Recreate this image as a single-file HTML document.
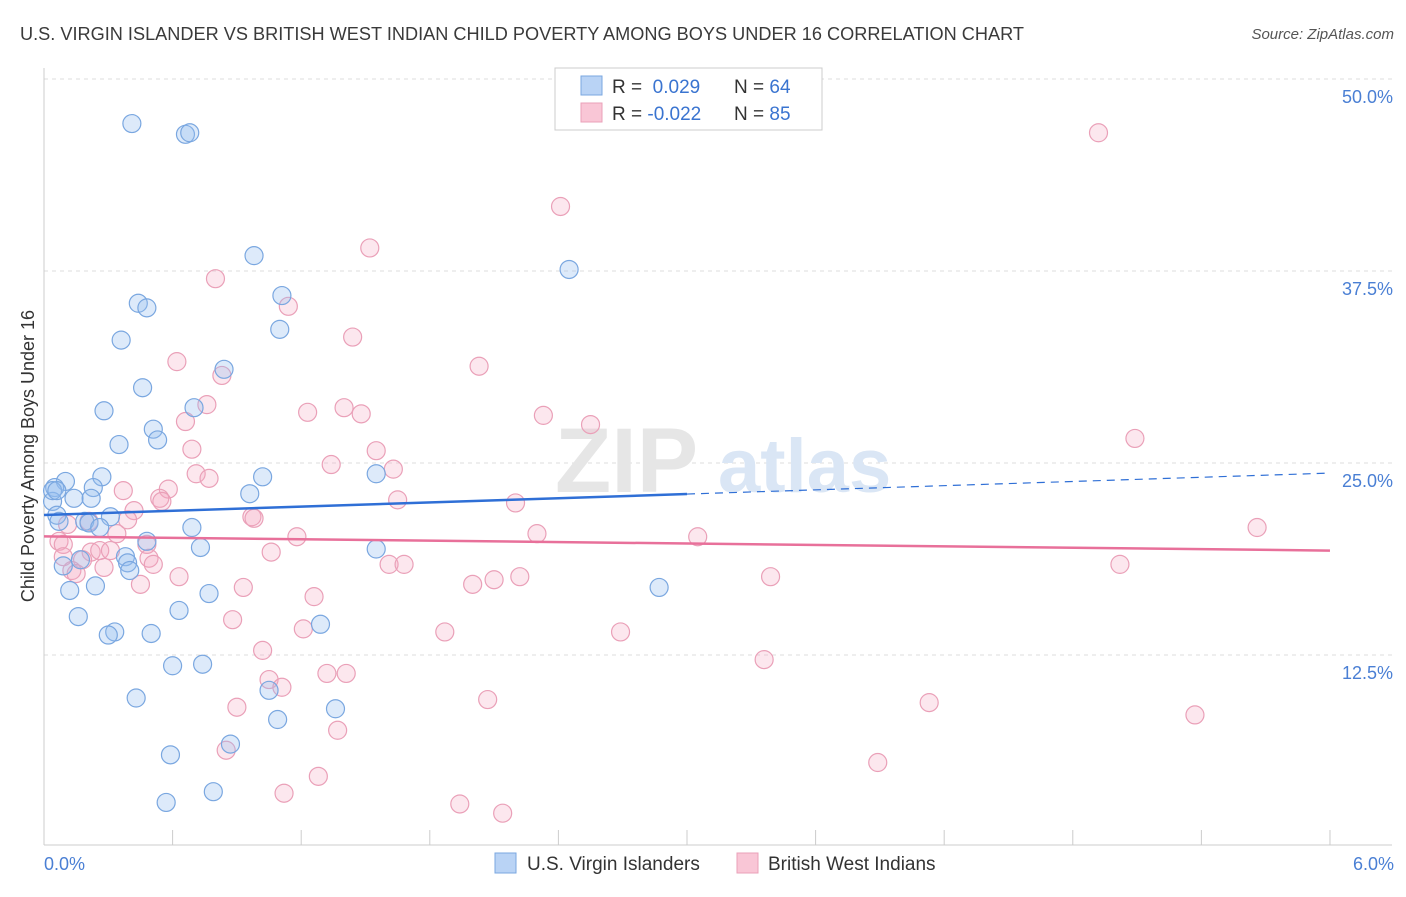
<!DOCTYPE html>
<html><head><meta charset="utf-8">
<style>
body{margin:0;background:#fff;font-family:"Liberation Sans",sans-serif;}
svg text{font-family:"Liberation Sans",sans-serif;}
</style></head>
<body>
<svg id="chart" width="1406" height="892" viewBox="0 0 1406 892" xmlns="http://www.w3.org/2000/svg">
<text x="20" y="40" font-size="18" fill="#3a3a3a" textLength="1004" lengthAdjust="spacingAndGlyphs">U.S. VIRGIN ISLANDER VS BRITISH WEST INDIAN CHILD POVERTY AMONG BOYS UNDER 16 CORRELATION CHART</text>
<text x="1394" y="39" font-size="15" fill="#555" font-style="italic" text-anchor="end">Source: ZipAtlas.com</text>
<text x="34" y="456" font-size="18" fill="#333" text-anchor="middle" transform="rotate(-90 34 456)">Child Poverty Among Boys Under 16</text>
<g id="grid"></g>
<g id="watermark">
<text x="555" y="492" font-size="92" fill="#e6e6e6" font-family="Liberation Serif" font-weight="bold">ZIP</text>
<text x="718" y="492" font-size="76" fill="#dae6f5" font-weight="bold">atlas</text>
</g>
<line x1="44" y1="68" x2="44" y2="845" stroke="#ccc"/>
<line x1="44" y1="845" x2="1392" y2="845" stroke="#ccc"/>
<g id="xticks"></g>
<g id="ylabels"></g>
<text x="44" y="870" font-size="18" fill="#4a7fd4">0.0%</text>
<text x="1394" y="870" font-size="18" fill="#4a7fd4" text-anchor="end">6.0%</text>
<g id="pinkpts"></g>
<g id="bluepts"></g>
<g id="trends"></g>
<g>
<rect x="555" y="68" width="267" height="62" fill="#fff" stroke="#ccc"/>
<rect x="581" y="76" width="21" height="19" fill="#b9d3f5" stroke="#7aa7e0"/>
<rect x="581" y="103" width="21" height="19" fill="#f9c6d6" stroke="#eaa0b8"/>
<text x="612" y="93" font-size="19" fill="#333">R = <tspan fill="#3a74d0">&#160;0.029</tspan><tspan x="734">N = </tspan><tspan fill="#3a74d0">64</tspan></text>
<text x="612" y="120" font-size="19" fill="#333">R = <tspan fill="#3a74d0">-0.022</tspan><tspan x="734">N = </tspan><tspan fill="#3a74d0">85</tspan></text>
</g>
<g>
<rect x="495" y="853" width="21" height="20" fill="#b9d3f5" stroke="#7aa7e0"/>
<text x="527" y="870" font-size="19" fill="#333">U.S. Virgin Islanders</text>
<rect x="737" y="853" width="21" height="20" fill="#f9c6d6" stroke="#eaa0b8"/>
<text x="768" y="870" font-size="19" fill="#333">British West Indians</text>
</g>
</svg>
<script>
const blueX=[0.41,0.66,0.68,0.98,2.45,0.44,0.48,1.11,1.10,0.36,0.84,0.46,0.70,0.28,0.51,0.53,0.35,1.02,1.55,0.27,0.10,0.05,0.23,0.96,0.14,0.22,0.04,0.06,0.31,0.07,0.19,0.21,0.26,0.69,0.48,0.73,1.55,0.38,0.17,0.39,0.09,0.40,0.24,0.12,2.87,0.77,0.63,0.16,1.29,0.33,0.30,0.50,0.60,0.74,1.05,0.43,1.36,1.09,0.87,0.59,0.79,0.57,0.04,0.06];
const blueY=[47.1,46.4,46.5,38.5,37.6,35.4,35.1,35.9,33.7,33.0,31.1,29.9,28.6,28.4,27.2,26.5,26.2,24.1,24.3,24.1,23.8,23.4,23.4,23.0,22.7,22.7,22.5,21.6,21.5,21.2,21.2,21.1,20.8,20.8,19.9,19.5,19.4,18.9,18.7,18.5,18.3,18.0,17.0,16.7,16.9,16.5,15.4,15.0,14.5,14.0,13.8,13.9,11.8,11.9,10.2,9.7,9.0,8.3,6.7,6.0,3.6,2.9,23.2,23.2];
const pinkX=[4.92,2.41,1.52,0.80,1.14,1.44,2.03,0.62,0.83,0.76,0.66,1.23,1.40,1.48,2.33,2.55,5.09,0.69,1.55,1.34,1.63,0.71,0.77,0.37,0.58,0.54,0.55,1.65,2.20,0.42,0.97,0.98,0.39,0.11,0.21,0.34,2.30,1.18,3.05,5.66,0.07,0.09,0.48,0.22,0.26,0.31,1.06,0.09,0.18,0.49,0.51,1.61,1.68,0.28,0.13,0.15,0.63,2.10,2.22,3.39,2.00,0.45,0.93,1.26,0.88,1.21,1.87,2.69,1.02,3.36,1.32,1.41,1.05,1.11,2.07,4.13,0.90,1.37,5.37,0.85,1.28,3.89,1.12,1.94,2.14,5.02];
const pinkY=[46.5,41.7,39.0,37.0,35.2,33.2,31.3,31.6,30.7,28.8,27.7,28.3,28.6,28.2,28.1,27.5,26.6,25.9,25.8,24.9,24.6,24.3,24.0,23.2,23.3,22.7,22.5,22.6,22.4,21.9,21.5,21.4,21.3,21.0,21.2,20.4,20.4,20.2,20.2,20.8,19.9,19.7,19.7,19.2,19.3,19.3,19.2,18.9,18.7,18.8,18.4,18.4,18.4,18.2,18.0,17.8,17.6,17.4,17.6,17.6,17.1,17.1,16.9,16.3,14.8,14.2,14.0,14.0,12.8,12.2,11.3,11.3,10.9,10.4,9.6,9.4,9.1,7.6,8.6,6.3,4.6,5.5,3.5,2.8,2.2,18.4];
const yTicks=[12.5,25,37.5,50];
const yTickLabels=["12.5%","25.0%","37.5%","50.0%"];
const xTicks=[0.6,1.2,1.8,2.4,3.0,3.6,4.2,4.8,5.4,6.0];

const NS="http://www.w3.org/2000/svg";
const sx=v=>44+v*214.33;
const sy=v=>847-v*15.36;
function mk(tag,attrs,parent){const e=document.createElementNS(NS,tag);for(const k in attrs)e.setAttribute(k,attrs[k]);parent.appendChild(e);return e;}
const grid=document.getElementById('grid'),yl=document.getElementById('ylabels'),xt=document.getElementById('xticks');
yTicks.forEach((t,i)=>{
 const l=mk('line',{x1:44,x2:1392,y1:sy(t),y2:sy(t),stroke:'#ddd','stroke-dasharray':'4,4'},grid);
 
 
 const tx=mk('text',{x:1393,y:sy(t)+24,'font-size':18,fill:'#4a7fd4','text-anchor':'end'},yl);
 tx.textContent=yTickLabels[i];
 
 
});
xTicks.forEach(t=>{
 const l=mk('line',{x1:sx(t),x2:sx(t),y1:830,y2:845,stroke:'#ccc'},xt);
 
 
});
function pts(X,Y,g,fill,stroke,name){
 X.forEach((x,i)=>{
  const c=mk('circle',{cx:sx(x),cy:sy(Y[i]),r:9,fill:fill,stroke:stroke,'stroke-width':1.2},g);
  
  
 });
}
pts(pinkX,pinkY,document.getElementById('pinkpts'),'rgba(245,170,195,0.28)','#eaa0b8','pink-point');
pts(blueX,blueY,document.getElementById('bluepts'),'rgba(150,190,240,0.32)','#7aa7e0','blue-point');
function reg(X,Y){const n=X.length;let mx=0,my=0;for(let i=0;i<n;i++){mx+=X[i];my+=Y[i];}mx/=n;my/=n;let sxy=0,sxx=0;for(let i=0;i<n;i++){sxy+=(X[i]-mx)*(Y[i]-my);sxx+=(X[i]-mx)**2;}const b=sxy/sxx;return [my-b*mx,b];}
const tr=document.getElementById('trends');
const [ba,bb]=reg(blueX,blueY),[pa,pb]=reg(pinkX,pinkY);
const bl1=mk('line',{x1:sx(0),y1:sy(ba),x2:sx(3),y2:sy(ba+bb*3),stroke:'#2f6fd6','stroke-width':2.5},tr);


const bl2=mk('line',{x1:sx(3),y1:sy(ba+bb*3),x2:sx(6),y2:sy(ba+bb*6),stroke:'#2f6fd6','stroke-width':1.2,'stroke-dasharray':'8,6'},tr);


const pl=mk('line',{x1:sx(0),y1:sy(pa),x2:sx(6),y2:sy(pa+pb*6),stroke:'#e8709a','stroke-width':2.5},tr);


</script>
</body></html>
